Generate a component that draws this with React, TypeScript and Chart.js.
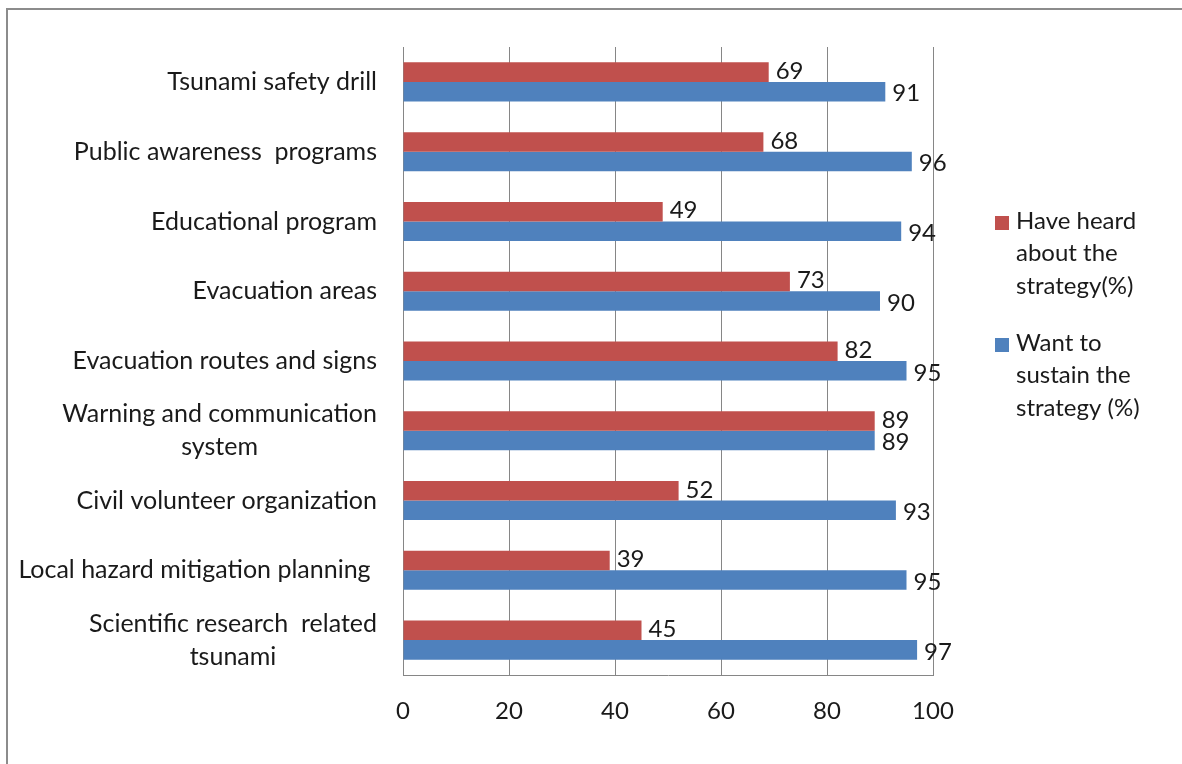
import React, { useEffect, useRef } from "react";
import { Chart, registerables } from "chart.js";

Chart.register(...registerables);

const categories: string[][] = [
  ["Tsunami safety drill"],
  ["Public awareness  programs"],
  ["Educational program"],
  ["Evacuation areas"],
  ["Evacuation routes and signs"],
  ["Warning and communication", "system"],
  ["Civil volunteer organization"],
  ["Local hazard mitigation planning "],
  ["Scientific research  related", "tsunami"],
];

const heardValues = [69, 68, 49, 73, 82, 89, 52, 39, 45];
const sustainValues = [91, 96, 94, 90, 95, 89, 93, 95, 97];

const seriesNames = ["Have heard about the strategy(%)", "Want to sustain the strategy (%)"];
const seriesColors = ["#C0504D", "#4F81BD"];

const xTicks = [0, 20, 40, 60, 80, 100];

const FONT = "Lato, 'Open Sans', sans-serif";
const FONT_SIZE = 24;
const CAT_FONT_SIZE = 25;
const AXIS_COLOR = "#868686";

const categoryLabelPlugin = {
  id: "categoryLabels",
  afterDraw(chart: any) {
    const ctx = chart.ctx;
    const yScale = chart.scales.y;
    const rightX = yScale.right - 26;
    const lineH = 33;
    ctx.save();
    ctx.font = `${CAT_FONT_SIZE}px ${FONT}`;
    ctx.fillStyle = "#1a1a1a";
    ctx.textBaseline = "middle";
    ctx.textAlign = "center";
    categories.forEach((lines, i) => {
      const cy = yScale.getPixelForValue(i);
      const w = Math.max(...lines.map((l) => ctx.measureText(l).width));
      const cx = rightX - w / 2;
      const startY = cy - ((lines.length - 1) * lineH) / 2;
      lines.forEach((l, j) => ctx.fillText(l, cx, startY + j * lineH));
    });
    ctx.restore();
  },
};

const valueLabelPlugin = {
  id: "valueLabels",
  afterDatasetsDraw(chart: any) {
    const ctx = chart.ctx;
    ctx.save();
    ctx.font = `${FONT_SIZE}px ${FONT}`;
    ctx.fillStyle = "#1a1a1a";
    ctx.textBaseline = "middle";
    ctx.textAlign = "left";
    chart.data.datasets.forEach((ds: any, di: number) => {
      const meta = chart.getDatasetMeta(di);
      meta.data.forEach((el: any, i: number) => {
        ctx.fillText(String(ds.data[i]), el.x + 7, el.y + (di === 0 ? -1 : 2));
      });
    });
    ctx.restore();
  },
};

const legendPlugin = {
  id: "customLegend",
  afterDraw(chart: any) {
    const ctx = chart.ctx;
    const x0 = 995;
    const textX = 1016;
    const lineH = 32.5;
    const maxW = 140;
    const starts = [221, 343];
    ctx.save();
    ctx.font = `${FONT_SIZE}px ${FONT}`;
    ctx.textBaseline = "middle";
    ctx.textAlign = "left";
    chart.data.datasets.forEach((ds: any, di: number) => {
      const words = String(ds.label).split(" ");
      const lines: string[] = [];
      let cur = "";
      words.forEach((w) => {
        const test = cur ? cur + " " + w : w;
        if (ctx.measureText(test).width > maxW && cur) {
          lines.push(cur);
          cur = w;
        } else cur = test;
      });
      if (cur) lines.push(cur);
      const y0 = starts[di];
      ctx.fillStyle = ds.backgroundColor;
      ctx.fillRect(x0, y0 - 5, 14, 14);
      ctx.fillStyle = "#1a1a1a";
      lines.forEach((l, j) => ctx.fillText(l, textX, y0 + j * lineH));
    });
    ctx.restore();
  },
};

export default function App() {
  const ref = useRef<HTMLCanvasElement | null>(null);

  useEffect(() => {
    if (!ref.current) return;
    const chart = new Chart(ref.current, {
      type: "bar",
      data: {
        labels: categories.map((c) => c.join(" ")),
        datasets: [
          {
            label: seriesNames[0],
            data: heardValues,
            backgroundColor: seriesColors[0],
            categoryPercentage: 0.56,
            barPercentage: 1,
          },
          {
            label: seriesNames[1],
            data: sustainValues,
            backgroundColor: seriesColors[1],
            categoryPercentage: 0.56,
            barPercentage: 1,
          },
        ],
      },
      options: {
        indexAxis: "y",
        responsive: false,
        animation: false,
        devicePixelRatio: 1,
        layout: { padding: { top: 47, right: 249, left: 0, bottom: 0 } },
        plugins: {
          legend: { display: false },
          tooltip: { enabled: false },
        },
        scales: {
          x: {
            min: 0,
            max: 100,
            afterBuildTicks: (scale: any) => {
              scale.ticks = xTicks.map((v) => ({ value: v }));
            },
            afterFit: (scale: any) => {
              scale.height = 89;
            },
            ticks: {
              color: "#1a1a1a",
              font: { family: FONT, size: FONT_SIZE },
              padding: 22,
              maxRotation: 0,
            },
            grid: { color: AXIS_COLOR, drawTicks: false, lineWidth: 1 },
            border: { color: AXIS_COLOR, width: 1 },
          },
          y: {
            type: "category",
            afterFit: (scale: any) => {
              scale.width = 403;
            },
            ticks: { display: false },
            grid: { display: false, drawTicks: false },
            border: { color: AXIS_COLOR, width: 1 },
          },
        },
      },
      plugins: [categoryLabelPlugin, valueLabelPlugin, legendPlugin],
    } as any);
    return () => chart.destroy();
  }, []);

  return (
    <div
      style={{
        position: "fixed",
        left: 0,
        top: 0,
        width: 1182,
        height: 764,
        overflow: "hidden",
        background: "#fff",
      }}
    >
      <div
        style={{
          position: "absolute",
          left: 6,
          top: 8,
          width: 1300,
          height: 900,
          border: "2px solid #8c8c8c",
          boxSizing: "border-box",
        }}
      />
      <canvas
        ref={ref}
        width={1182}
        height={764}
        style={{ position: "absolute", left: 0, top: 0, width: 1182, height: 764 }}
      />
    </div>
  );
}
